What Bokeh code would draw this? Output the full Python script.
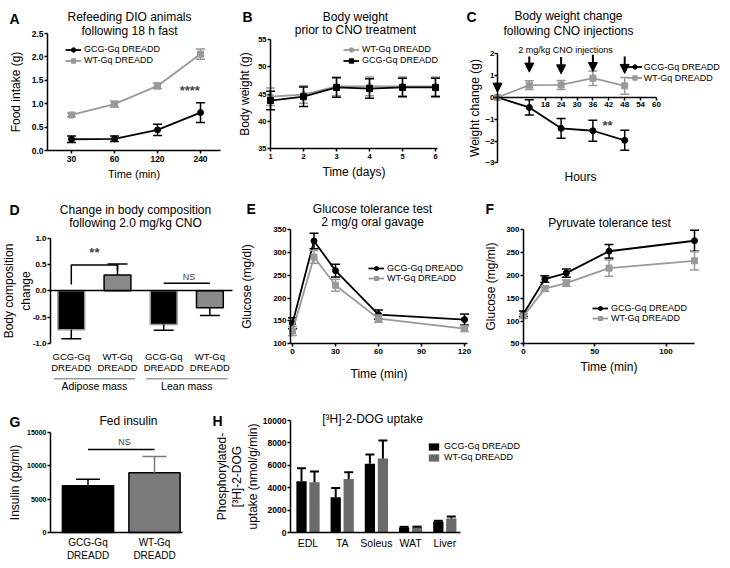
import numpy as np
from bokeh.plotting import figure
from bokeh.layouts import column, row
from bokeh.models import (FixedTicker, PrintfTickFormatter, Label, Legend, LegendItem,
                          Arrow, NormalHead, ColumnDataSource, Range1d)
from bokeh.embed import file_html
from bokeh.resources import INLINE
from bokeh.core.properties import value

FONT = "Liberation Sans"
BLACK = "#000000"
GRAY = "#999999"
BAR_GRAY = "#8a8a8a"
G_GRAY = "#7a7a7a"
H_GRAY = "#6a6a6a"

# ---------------- data ----------------
# A: refeeding
a_time = [30, 60, 120, 240]
a_gcg = [0.24, 0.25, 0.44, 0.81]
a_gcg_err = [0.07, 0.06, 0.12, 0.21]
a_wt = [0.76, 0.99, 1.38, 2.06]
a_wt_err = [0.04, 0.06, 0.06, 0.11]
# B: body weight
b_day = [1, 2, 3, 4, 5, 6]
b_wt = [44.5, 44.9, 46.4, 46.4, 46.4, 46.4]
b_wt_err = [1.6, 1.6, 1.7, 1.7, 1.7, 1.7]
b_gcg = [43.8, 44.5, 46.2, 46.0, 46.2, 46.2]
b_gcg_err = [1.7, 1.8, 1.8, 1.8, 1.7, 1.7]
# C: weight change
c_hours = [0, 12, 24, 36, 48]
c_gcg = [0.0, -0.46, -1.42, -1.53, -1.97]
c_gcg_err = [0.0, 0.35, 0.45, 0.48, 0.46]
c_wt = [0.0, 0.56, 0.57, 0.88, 0.53]
c_wt_err = [0.0, 0.2, 0.21, 0.33, 0.38]
c_inj_hours = [0, 12, 24, 36, 48]
c_arrow_top = [0.70, 1.88, 1.85, 1.96, 1.88]
c_arrow_tip = [0.24, 1.16, 1.08, 1.19, 1.10]
c_xticks = [18, 24, 30, 36, 42, 48, 54, 60]
# D: body composition
d_groups = ["Adipose mass", "Lean mass"]
d_line1 = ["GCG-Gq", "WT-Gq", "GCG-Gq", "WT-Gq"]
d_line2 = ["DREADD", "DREADD", "DREADD", "DREADD"]
d_vals = [-0.74, 0.30, -0.64, -0.32]
d_err = [0.17, 0.21, 0.11, 0.15]
# E: glucose tolerance
e_time = [0, 15, 30, 60, 120]
e_gcg = [145, 325, 260, 164, 153]
e_gcg_err = [12, 17, 14, 10, 12]
e_wt = [128, 290, 228, 155, 133]
e_wt_err = [10, 14, 13, 8, 6]
# F: pyruvate tolerance
f_time = [0, 15, 30, 60, 120]
f_gcg = [116, 192, 205, 253, 276]
f_gcg_err = [6, 7, 9, 15, 23]
f_wt = [111, 171, 183, 216, 232]
f_wt_err = [5, 6, 7, 18, 20]
# G: fed insulin
g_line1 = ["GCG-Gq", "WT-Gq"]
g_vals = [7000, 8950]
g_err = [1000, 2450]
# H: 2-DOG uptake
h_tissues = ["EDL", "TA", "Soleus", "WAT", "Liver"]
h_gcg = [4600, 3170, 6140, 470, 1000]
h_gcg_err = [1150, 810, 830, 60, 70]
h_wt = [4500, 4780, 6620, 500, 1280]
h_wt_err = [960, 620, 1600, 50, 170]

LEG = ["GCG-Gq DREADD", "WT-Gq DREADD"]


# ---------------- helpers ----------------
class Panel:
    """A figure whose frame fills its whole box; axes sit at fixed locations."""

    def __init__(self, box, xa, ya):
        self.box = box
        x0, y0, x1, y1 = box
        d1, p1, d2, p2 = xa
        self.sx = (p2 - p1) / (d2 - d1)
        self.xa = (d1, p1)
        e1, q1, e2, q2 = ya
        self.sy = (q2 - q1) / (e2 - e1)
        self.ya = (e1, q1)
        self.p = figure(width=int(x1 - x0), height=int(y1 - y0),
                        x_range=Range1d(self.X(x0), self.X(x1)),
                        y_range=Range1d(self.Y(y1), self.Y(y0)),
                        title=None, output_backend="svg", toolbar_location=None,
                        min_border=0, min_border_left=0, min_border_right=0,
                        min_border_top=0, min_border_bottom=0)
        p = self.p
        p.outline_line_color = None
        p.grid.visible = False
        p.background_fill_color = "white"
        p.border_fill_color = "white"

    def X(self, px):
        return self.xa[0] + (px - self.xa[1]) / self.sx

    def Y(self, py):
        return self.ya[0] + (py - self.ya[1]) / self.sy

    def axes(self, yaxis_px, ybounds, xaxis_y, xbounds_px, tick_size=8, label_size=12):
        p = self.p
        p.yaxis.fixed_location = self.X(yaxis_px)
        p.yaxis.bounds = ybounds
        p.xaxis.fixed_location = xaxis_y
        p.xaxis.bounds = (self.X(xbounds_px[0]), self.X(xbounds_px[1]))
        for ax in p.axis:
            ax.axis_line_width = 1.5
            ax.axis_line_color = "black"
            ax.major_tick_line_width = 1.5
            ax.major_tick_line_color = "black"
            ax.major_tick_out = 3
            ax.major_tick_in = 0
            ax.minor_tick_line_color = None
            ax.major_label_text_font = FONT
            ax.major_label_text_font_style = "bold"
            ax.major_label_text_font_size = f"{tick_size}px"
            ax.major_label_text_color = "black"
            ax.major_label_standoff = 2
            ax.axis_label_text_font = FONT
            ax.axis_label_text_font_style = "normal"
            ax.axis_label_text_font_size = f"{label_size}px"
            ax.axis_label_text_color = "black"
        p.yaxis.major_label_standoff = 1

    def lab(self, xref, yref, text, size=12, bold=False, align="center"):
        x0, y0, x1, y1 = self.box
        self.p.add_layout(Label(x=xref - x0, y=y1 - yref, x_units="screen", y_units="screen",
                                text=text, text_font=FONT, text_font_size=f"{size}px",
                                text_font_style="bold" if bold else "normal",
                                text_align=align, text_baseline="alphabetic",
                                text_color="black"))

    def legend(self, items, xref, ybottom_ref, size=9, gw=16, gh=11, lh=11, standoff=3):
        x0, y0, x1, y1 = self.box
        lg = Legend(items=[LegendItem(label=t, renderers=r) for t, r in items],
                    location=(xref - x0, y1 - ybottom_ref), label_text_font=FONT,
                    label_text_font_size=f"{size}px", label_text_color="black",
                    glyph_width=gw, glyph_height=gh, label_height=lh,
                    label_standoff=standoff, spacing=0, padding=0, margin=0,
                    border_line_color=None, background_fill_alpha=0)
        self.p.add_layout(lg)


def series(p, x, y, err, color, marker, cap=9, size=6):
    y = np.asarray(y, float)
    e = np.asarray(err, float)
    p.segment(x0=x, y0=y - e, x1=x, y1=y + e, line_color=color, line_width=1.5)
    p.scatter(x, y + e, marker="dash", size=cap, line_color=color, line_width=1.5)
    p.scatter(x, y - e, marker="dash", size=cap, line_color=color, line_width=1.5)
    l = p.line(x, y, line_color=color, line_width=1.8)
    s = p.scatter(x, y, marker=marker, size=size, fill_color=color, line_color=color)
    return [l, s]


def one_sided(p, x, vals, errs, color, cap, width=1.5):
    v = np.asarray(vals, float)
    e = np.asarray(errs, float)
    end = v + np.sign(v) * e
    p.segment(x0=x, y0=v, x1=x, y1=end, line_color=color, line_width=width)
    p.scatter(x, end, marker="dash", size=cap, line_color=color, line_width=width)


def star(p, x, y, text, size=13, bold=True):
    p.add_layout(Label(x=x, y=y, text=text, text_font=FONT, text_font_size=f"{size}px",
                       text_font_style="bold" if bold else "normal",
                       text_align="center", text_baseline="middle"))


# ---------------- A ----------------
A = Panel((0, 0, 234, 190), (0, 71, 3, 200), (0, 150, 2.5, 33))
pA = A.p
xA = np.arange(len(a_time))
rA_g = series(pA, xA, a_gcg, a_gcg_err, BLACK, "circle")
rA_w = series(pA, xA, a_wt, a_wt_err, GRAY, "square")
A.axes(47, (0, 2.5), 0, (47, 220), 8.5, 12)
pA.xaxis.ticker = FixedTicker(ticks=list(xA))
pA.xaxis.major_label_overrides = {int(i): str(t) for i, t in zip(xA, a_time)}
pA.yaxis.ticker = FixedTicker(ticks=[0, 0.5, 1.0, 1.5, 2.0, 2.5])
pA.yaxis.formatter = PrintfTickFormatter(format="%.1f")
pA.xaxis.axis_label = "Time (min)"
pA.xaxis.axis_label_text_font_size = "11px"
pA.xaxis.axis_label_standoff = 3
pA.yaxis.axis_label = "Food intake (g)"
pA.yaxis.axis_label_standoff = 6
A.legend([(LEG[0], rA_g), (LEG[1], rA_w)], 65, 65.5)
star(pA, 2.75, 1.28, "****")
A.lab(129, 16.7, "Refeeding DIO animals")
A.lab(129, 30, "following 18 h fast")
A.lab(9, 18.3, "A", size=14, bold=True, align="left")

# ---------------- B ----------------
B = Panel((234, 0, 462, 190), (1, 270, 6, 435), (35, 148, 55, 39))
pB = B.p
rB_w = series(pB, b_day, b_wt, b_wt_err, GRAY, "circle")
rB_g = series(pB, b_day, b_gcg, b_gcg_err, BLACK, "square")
B.axes(270, (35, 55), 35, (270, 437), 7.5, 12)
pB.xaxis.ticker = FixedTicker(ticks=b_day)
pB.yaxis.ticker = FixedTicker(ticks=[35, 40, 45, 50, 55])
pB.xaxis.axis_label = "Time (days)"
pB.xaxis.axis_label_standoff = 3
pB.yaxis.axis_label = "Body weight (g)"
pB.yaxis.axis_label_standoff = 3
B.legend([(LEG[1], rB_w), (LEG[0], rB_g)], 343, 65.5)
B.lab(355, 16.7, "Body weight")
B.lab(355, 29.3, "prior to CNO treatment")
B.lab(242, 16.7, "B", size=14, bold=True, align="left")

# ---------------- C ----------------
C = Panel((462, 0, 730, 190), (0, 497, 60, 656), (-3, 162.3, 2, 53.3))
pC = C.p
arrows = ColumnDataSource(dict(x=c_inj_hours, y0=c_arrow_top, y1=c_arrow_tip))
pC.add_layout(Arrow(source=arrows, x_start="x", y_start="y0", x_end="x", y_end="y1",
                    line_width=2, line_color="black",
                    end=NormalHead(size=9, fill_color="black", line_color="black")))
rC_g = series(pC, c_hours, c_gcg, c_gcg_err, BLACK, "circle")
rC_w = series(pC, c_hours, c_wt, c_wt_err, GRAY, "square")
C.axes(497, (-3, 2), 0, (497, 656), 8, 12)
pC.xaxis.ticker = FixedTicker(ticks=c_xticks)
pC.yaxis.ticker = FixedTicker(ticks=[-3, -2, -1, 0, 1, 2])
pC.yaxis.axis_label = "Weight change (g)"
pC.yaxis.axis_label_standoff = 0
pC.yaxis.major_label_standoff = 0
C.legend([(LEG[0], rC_g), (LEG[1], rC_w)], 626.7, 83.2, gw=15, standoff=2)
star(pC, 41.5, -1.28, "**")
C.lab(568, 15.7, "Body weight change")
C.lab(568, 30, "following CNO injections")
C.lab(466, 16.5, "C", size=14, bold=True, align="left")
C.lab(565, 49, "2 mg/kg CNO injections", size=9)
C.lab(580, 176.7, "Hours")

# ---------------- D ----------------
D = Panel((0, 190, 240, 392), (0, 70.8, 3, 209.4), (-1, 343, 1, 237.7))
pD = D.p
xD = np.arange(len(d_vals))
d_fill = [BLACK if s.startswith("GCG") else BAR_GRAY for s in d_line1]
d_edge = [GRAY if s.startswith("GCG") else BLACK for s in d_line1]
pD.vbar(x=xD, top=d_vals, bottom=0, width=0.58, fill_color=d_fill,
        line_color=d_edge, line_width=1.5)
one_sided(pD, xD, d_vals, d_err, BLACK, 20)
D.axes(50, (-1, 1), 0, (50, 232), 8, 12)
pD.xaxis.ticker = FixedTicker(ticks=[])
pD.xaxis.major_tick_out = 0
pD.yaxis.ticker = FixedTicker(ticks=[-1.0, -0.5, 0, 0.5, 1.0])
pD.yaxis.formatter = PrintfTickFormatter(format="%.1f")
pD.yaxis.axis_label = "Body composition\nchange"
pD.yaxis.axis_label_text_line_height = 1.22
pD.yaxis.axis_label_standoff = -3
pD.text(x=xD, y=-1.24, text=d_line1, text_font=value(FONT), text_font_size="9.5px",
        text_align="center", text_baseline="middle")
pD.text(x=xD, y=-1.46, text=d_line2, text_font=value(FONT), text_font_size="9.5px",
        text_align="center", text_baseline="middle")
g_cent = xD.reshape(-1, 2).mean(axis=1)
pD.segment(x0=g_cent - 0.88, y0=-1.67, x1=g_cent + 0.88, y1=-1.67,
           line_color=GRAY, line_width=1.5)
pD.text(x=g_cent, y=-1.81, text=d_groups, text_font=value(FONT), text_font_size="10.5px",
        text_align="center", text_baseline="middle")
pD.line(x=[xD[0], xD[0], xD[1], xD[1]], y=[0.12, 0.49, 0.49, 0.38],
        line_color="black", line_width=1.5)
star(pD, 0.5, 0.72, "**")
pD.line(x=[xD[2], xD[3]], y=[0.145, 0.145], line_color="black", line_width=1.5)
star(pD, 2.55, 0.27, "NS", size=9, bold=False)
D.lab(135, 209, "Change in body composition")
D.lab(135, 222.7, "following 2.0 mg/kg CNO")
D.lab(9, 209, "D", size=14, bold=True, align="left")

# ---------------- E ----------------
E = Panel((240, 190, 480, 392), (0, 292, 120, 464), (100, 343.3, 350, 229))
pE = E.p
rE_g = series(pE, e_time, e_gcg, e_gcg_err, BLACK, "circle")
rE_w = series(pE, e_time, e_wt, e_wt_err, GRAY, "square")
E.axes(290, (100, 350), 100, (290, 467), 8, 12)
pE.xaxis.ticker = FixedTicker(ticks=[0, 30, 60, 90, 120])
pE.yaxis.ticker = FixedTicker(ticks=[100, 150, 200, 250, 300, 350])
pE.xaxis.axis_label = "Time (min)"
pE.xaxis.axis_label_standoff = 10
pE.yaxis.axis_label = "Glucose (mg/dl)"
pE.yaxis.axis_label_standoff = 16
E.legend([(LEG[0], rE_g), (LEG[1], rE_w)], 368, 283.3, gh=10, lh=10)
E.lab(372, 208.3, "Glucose tolerance test")
E.lab(372, 221.7, "2 mg/g oral gavage")
E.lab(246, 208.3, "E", size=14, bold=True, align="left")

# ---------------- F ----------------
F = Panel((480, 190, 730, 392), (0, 523, 100, 665.5), (50, 343.3, 300, 229.3))
pF = F.p
rF_g = series(pF, f_time, f_gcg, f_gcg_err, BLACK, "circle")
rF_w = series(pF, f_time, f_wt, f_wt_err, GRAY, "square")
F.axes(523, (50, 300), 50, (523, 694), 8, 12)
pF.xaxis.ticker = FixedTicker(ticks=[0, 50, 100])
pF.yaxis.ticker = FixedTicker(ticks=[50, 100, 150, 200, 250, 300])
pF.xaxis.axis_label = "Time (min)"
pF.xaxis.axis_label_standoff = 3
pF.yaxis.axis_label = "Glucose (mg/ml)"
pF.yaxis.axis_label_standoff = 5
F.legend([(LEG[0], rF_g), (LEG[1], rF_w)], 592, 323.3, gh=10, lh=10)
F.lab(609, 222.7, "Pyruvate tolerance test")
F.lab(485, 208.3, "F", size=14, bold=True, align="left")

# ---------------- G ----------------
G = Panel((0, 392, 210, 568), (0, 87.5, 1, 154), (0, 532, 15000, 432))
pG = G.p
xG = np.arange(len(g_vals))
g_fill = [BLACK if s.startswith("GCG") else G_GRAY for s in g_line1]
pG.vbar(x=xG, top=g_vals, width=0.77, fill_color=g_fill, line_color=BLACK, line_width=1.5)
one_sided(pG, xG[:1], g_vals[:1], g_err[:1], BLACK, 24)
one_sided(pG, xG[1:], g_vals[1:], g_err[1:], G_GRAY, 24)
G.axes(50, (0, 15000), 0, (50, 182), 7, 12)
pG.xaxis.ticker = FixedTicker(ticks=list(xG))
pG.xaxis.major_label_overrides = {int(i): f"{s}\nDREADD" for i, s in zip(xG, g_line1)}
pG.xaxis.major_label_text_font_style = "normal"
pG.xaxis.major_label_text_font_size = "10px"
pG.xaxis.major_tick_out = 0
pG.xaxis.major_label_standoff = 4
pG.yaxis.ticker = FixedTicker(ticks=[0, 5000, 10000, 15000])
pG.yaxis.axis_label = "Insulin (pg/ml)"
pG.yaxis.axis_label_standoff = 2
pG.line(x=[xG[0], xG[1]], y=[12450, 12450], line_color="black", line_width=1.5)
star(pG, 0.55, 13550, "NS", size=9, bold=False)
G.lab(128, 420, "Fed insulin")
G.lab(9, 421, "G", size=14, bold=True, align="left")

# ---------------- H ----------------
H = Panel((210, 392, 730, 568), (0, 307.5, 4, 444.3), (0, 532.3, 10000, 420))
pH = H.p
xH = np.arange(len(h_tissues))
off, bw = 0.19, 0.3
rH_g = pH.vbar(x=xH - off, top=h_gcg, width=bw, fill_color=BLACK, line_color=None)
rH_w = pH.vbar(x=xH + off, top=h_wt, width=bw, fill_color=H_GRAY, line_color=None)
one_sided(pH, xH - off, h_gcg, h_gcg_err, BLACK, 9, width=2)
one_sided(pH, xH + off, h_wt, h_wt_err, BLACK, 9, width=2)
H.axes(290, (0, 10000), 0, (290, 460), 8.5, 12)
pH.xaxis.ticker = FixedTicker(ticks=list(xH))
pH.xaxis.major_label_overrides = {int(i): s for i, s in zip(xH, h_tissues)}
pH.xaxis.major_label_text_font_style = "normal"
pH.xaxis.major_label_text_font_size = "10.5px"
pH.xaxis.major_tick_out = 0
pH.xaxis.major_label_standoff = 4
pH.yaxis.ticker = FixedTicker(ticks=[0, 2000, 4000, 6000, 8000, 10000])
pH.yaxis.axis_label = "Phosphorylated-\n[³H]-2-DOG\nuptake (nmol/g/min)"
pH.yaxis.axis_label_text_line_height = 1.1
pH.yaxis.axis_label_standoff = 0
H.legend([(LEG[0], [rH_g]), (LEG[1], [rH_w])], 427, 462.5, gw=13, gh=9, lh=11, standoff=4)
H.lab(372, 418.3, "[³H]-2-DOG uptake")
H.lab(212, 420, "H", size=14, bold=True, align="left")

layout = column(row(pA, pB, pC), row(pD, pE, pF), row(pG, pH))
open("out.html", "w").write(file_html(layout, INLINE))
